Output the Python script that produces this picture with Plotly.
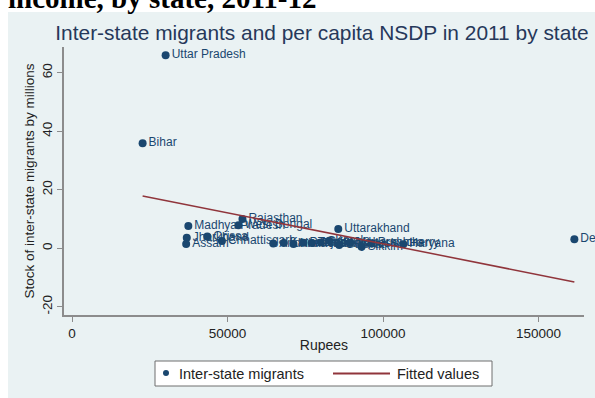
import plotly.graph_objects as go

# Inter-state migrants (millions) against per capita NSDP (rupees), 2011
states = [
    "Uttar Pradesh", "Bihar", "Rajasthan", "West Bengal", "Madhya Pradesh",
    "Jharkhand", "Orissa", "Assam", "Chhattisgarh", "Uttarakhand",
    "Andhra Pradesh", "Karnataka", "Himachal Pradesh", "Punjab", "Tamil Nadu",
    "Goa", "Kerala", "Gujarat", "Maharashtra", "Sikkim", "Puducherry",
    "Haryana", "Delhi",
]
nsdp = [
    30100, 22700, 54800, 53500, 37400,
    36900, 43500, 36700, 48200, 85600,
    64700, 68100, 71200, 74400, 77100,
    80000, 82700, 85900, 89400, 93100, 96400,
    106500, 161500,
]
migrants = [
    66.0, 35.9, 10.0, 7.9, 7.6,
    3.6, 4.0, 1.5, 2.5, 6.6,
    1.6, 1.8, 1.5, 1.9, 1.8,
    2.0, 2.6, 1.1, 1.9, 0.5, 1.7,
    1.4, 3.1,
]

# Linear fit endpoints (fitted values)
fit_x = [22700, 161500]
fit_y = [17.9, -11.5]

x_ticks = [0, 50000, 100000, 150000]
x_tick_text = ["0", "50000", "100000", "150000"]
y_ticks = [-20, 0, 20, 40, 60]
y_tick_text = ["-20", "0", "20", "40", "60"]

legend_labels = ["Inter-state migrants", "Fitted values"]

NAVY = "#1A476F"
MAROON = "#90353B"
BG = "#EAF2F3"
FONT = "Liberation Sans, Arial, sans-serif"
TEXT = "#222222"

W, H = 595, 398
L, R, T, B = 64, 11, 47, 83
PW, PH = W - L - R, H - T - B


def px_x(p):
    return (p - L) / PW


def px_y(p):
    return 1 - (p - T) / PH


fig = go.Figure()

fig.add_trace(go.Scatter(
    x=nsdp, y=migrants, text=states,
    mode="markers+text", textposition="middle right",
    textfont=dict(family=FONT, size=12, color=NAVY),
    marker=dict(color=NAVY, size=8),
    cliponaxis=False,
    name=legend_labels[0], showlegend=False,
))

fig.add_trace(go.Scatter(
    x=fit_x, y=fit_y, mode="lines",
    line=dict(color=MAROON, width=1.5),
    name=legend_labels[1], showlegend=False,
))

# graph region background
fig.add_shape(type="rect", xref="paper", yref="paper", layer="below",
              x0=px_x(8), x1=px_x(W + 2), y0=px_y(H + 2), y1=px_y(12),
              fillcolor=BG, line=dict(width=0))

# legend box below the x axis
fig.add_shape(type="rect", xref="paper", yref="paper",
              x0=px_x(155), x1=px_x(492), y0=px_y(386), y1=px_y(361),
              fillcolor="#FFFFFF", line=dict(color="#6E6E6E", width=1))
fig.add_shape(type="circle", xref="paper", yref="paper",
              x0=px_x(163), x1=px_x(169), y0=px_y(376), y1=px_y(370),
              fillcolor=NAVY, line=dict(width=0))
fig.add_shape(type="line", xref="paper", yref="paper",
              x0=px_x(333), x1=px_x(390), y0=px_y(373.5), y1=px_y(373.5),
              line=dict(color=MAROON, width=2))
fig.add_annotation(text=legend_labels[0], xref="paper", yref="paper",
                   x=px_x(177), y=px_y(373.5), xanchor="left", yanchor="middle",
                   showarrow=False, font=dict(family=FONT, size=14.5, color=TEXT))
fig.add_annotation(text=legend_labels[1], xref="paper", yref="paper",
                   x=px_x(395), y=px_y(373.5), xanchor="left", yanchor="middle",
                   showarrow=False, font=dict(family=FONT, size=14.5, color=TEXT))

# heading of the surrounding document, cut off at the top of the page
fig.add_annotation(
    text="<b>income, by state, 2011-12</b>", xref="paper", yref="paper",
    x=px_x(6), y=px_y(15.8), xanchor="left", yanchor="bottom",
    showarrow=False, font=dict(family="Liberation Serif, Times New Roman, serif",
                               size=29, color="#000000"),
)

fig.update_layout(
    width=W, height=H,
    margin=dict(l=L, r=R, t=T, b=B, autoexpand=False),
    paper_bgcolor="#FFFFFF", plot_bgcolor="#FFFFFF",
    font=dict(family=FONT, color=TEXT),
    title=dict(text="Inter-state migrants and per capita NSDP in 2011 by state",
               x=322 / W, xanchor="center", y=1 - 33 / H, yanchor="middle",
               font=dict(family=FONT, size=20.9, color="#26385A")),
    xaxis=dict(
        range=[-2572, 164600], tickvals=x_ticks, ticktext=x_tick_text,
        showgrid=False, zeroline=False,
        showline=True, linecolor="#8C8C8C", linewidth=1.5,
        ticks="outside", ticklen=5, tickcolor="#8C8C8C",
        tickfont=dict(size=13.5, color=TEXT),
        title=dict(text="Rupees", font=dict(size=14, color=TEXT), standoff=0),
    ),
    yaxis=dict(
        range=[-22.8, 68.8], tickvals=y_ticks, ticktext=y_tick_text,
        tickangle=-90,
        showgrid=True, gridcolor=BG, gridwidth=1, zeroline=False,
        showline=True, linecolor="#8C8C8C", linewidth=1.5,
        ticks="outside", ticklen=5, tickcolor="#8C8C8C",
        tickfont=dict(size=13.5, color=TEXT),
        title=dict(text="Stock of inter-state migrants by millions",
                   font=dict(size=13.5, color=TEXT), standoff=2),
    ),
    showlegend=False,
)

fig.write_html("out.html")
